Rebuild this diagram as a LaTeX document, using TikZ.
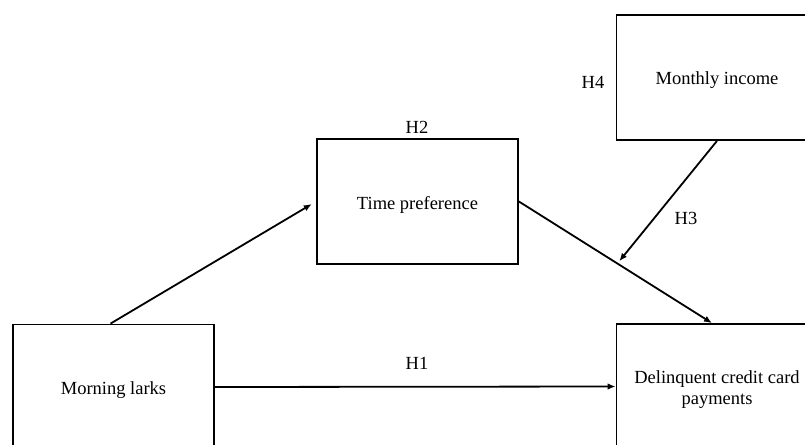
\documentclass[tikz,border=0pt]{standalone}
\usepackage{fontspec}
\setmainfont{Liberation Serif}
\usetikzlibrary{arrows.meta,calc}
\newcommand\lowr[1]{\raisebox{-3pt}[\height][\depth]{#1}}
\begin{document}
\begin{tikzpicture}[x=1pt,y=-1pt,
  box/.style={draw,line width=1.8pt,minimum width=201pt,minimum height=125pt,inner sep=0pt,align=center,font=\fontsize{18.5}{20.5}\selectfont},
  lbl/.style={font=\fontsize{18.5}{20.5}\selectfont,inner sep=0pt},
  conn/.style={line width=1.8pt,-{Latex[length=8pt,width=6.5pt]}}]
\useasboundingbox (0,0) rectangle (805,444);
\clip (0,0) rectangle (805,444);
\node[box] (ml) at (113.5,387) {\lowr{Morning larks}};
\node[box] (tp) at (417.5,201.5) {\lowr{Time preference}};
\node[box] (mi) at (717,77.5) {\lowr{Monthly income}};
\node[box] (dc) at (717,386.5) {\lowr{Delinquent credit card}\\\lowr{payments}};
\node[lbl] (h1) at (417,363) {H1};
\node[lbl] (h2) at (417,127) {H2};
\node[lbl] (h3) at (686,218) {H3};
\node[lbl] (h4) at (593,82) {H4};
\coordinate (dtop) at ($(dc.north)+(-5,0)$);
\coordinate (mls) at ($(ml.north)+(-3,0)$);
\coordinate (mid) at ($(tp.east)!0.51!(dtop)$);
\draw[conn,shorten >=5pt] (mls) -- (tp.west);
\draw[conn] (tp.east) -- (dtop);
\draw[conn,shorten >=3pt] (mi.south) -- (mid);
\draw[conn] (ml.east) -- (dc.west);
\end{tikzpicture}
\end{document}
